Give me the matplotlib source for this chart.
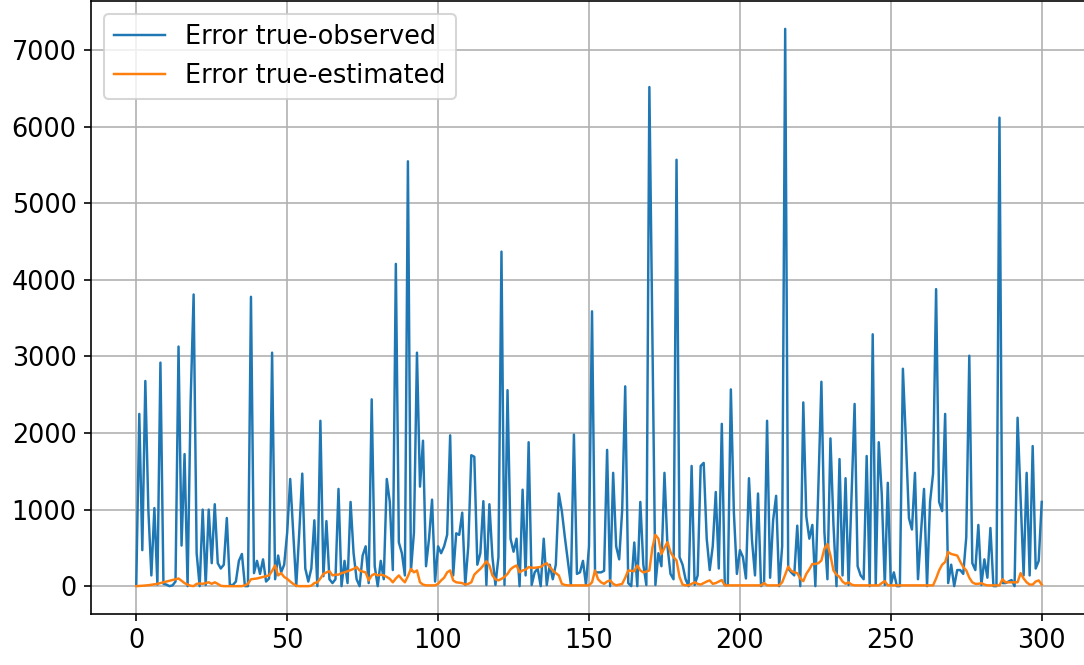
import numpy as np
import matplotlib
matplotlib.use('Agg')
import matplotlib.pyplot as plt

# values, index 0..300
err_observed = [
    30, 2250, 470, 2680, 1000, 140, 1020, 20, 2920, 30,
    20, 0, 10, 60, 3130, 530, 1725, 0, 2400, 3810,
    430, 0, 1000, 15, 1000, 300, 1070, 300, 230, 280,
    890, 15, 15, 60, 330, 420, 0, 0, 3780, 170,
    330, 160, 350, 60, 100, 3050, 90, 400, 180, 280,
    700, 1400, 700, 0, 700, 1470, 230, 60, 230, 860,
    0, 2160, 130, 850, 90, 40, 90, 1270, 0, 330,
    40, 1100, 430, 90, 0, 400, 520, 40, 2440, 260,
    0, 330, 90, 1400, 1100, 210, 4210, 570, 430, 140,
    5550, 200, 700, 3050, 1300, 1900, 260, 620, 1130, 60,
    520, 430, 520, 670, 1970, 140, 690, 670, 960, 15,
    520, 1710, 1690, 280, 430, 1110, 15, 1070, 380, 15,
    380, 4370, 15, 2560, 620, 450, 620, 0, 1260, 140,
    1880, 15, 180, 230, 0, 620, 15, 280, 90, 280,
    1210, 980, 640, 330, 15, 1980, 160, 180, 330, 15,
    520, 3590, 180, 180, 180, 200, 1780, 0, 1480, 520,
    350, 1000, 2610, 40, 0, 570, 0, 1100, 280, 15,
    6520, 3300, 15, 430, 260, 1480, 520, 160, 90, 5570,
    380, 280, 90, 0, 1570, 15, 140, 1570, 1610, 620,
    210, 520, 1230, 230, 2120, 15, 15, 2570, 960, 160,
    470, 380, 100, 1410, 600, 140, 1210, 0, 50, 2160,
    110, 860, 1180, 0, 520, 7280, 230, 180, 140, 790,
    0, 2400, 910, 620, 800, 0, 1300, 2670, 700, 90,
    1930, 800, 0, 1660, 140, 1410, 15, 1200, 2380, 260,
    140, 90, 1700, 0, 3290, 15, 1880, 1200, 15, 1350,
    15, 180, 0, 0, 2840, 1900, 890, 740, 1480, 90,
    700, 1270, 0, 1100, 1470, 3880, 1100, 980, 2250, 40,
    280, 0, 210, 210, 160, 640, 3010, 300, 210, 800,
    15, 350, 110, 760, 0, 0, 6120, 40, 40, 60,
    80, 0, 2200, 1150, 140, 1480, 140, 1830, 230, 330,
    1100,
]

err_estimated = [
    0, 2, 5, 8, 12, 18, 25, 30, 40, 50,
    60, 70, 80, 90, 100, 70, 40, 20, 5, 0,
    30, 35, 30, 40, 50, 30, 50, 30, 5, 0,
    0, 0, 0, 0, 0, 0, 10, 30, 90, 95,
    100, 110, 120, 130, 140, 200, 270, 140, 170, 120,
    95, 60, 30, 5, 0, 0, 0, 0, 5, 40,
    50, 100, 160, 180, 195, 140, 150, 150, 170, 180,
    195, 210, 225, 250, 205, 190, 180, 75, 140, 160,
    140, 150, 140, 120, 95, 50, 100, 140, 90, 50,
    130, 225, 180, 205, 50, 20, 10, 10, 10, 10,
    30, 75, 110, 180, 205, 75, 50, 45, 40, 20,
    30, 50, 150, 190, 225, 270, 325, 270, 140, 90,
    75, 95, 120, 160, 220, 250, 270, 180, 205, 215,
    250, 240, 240, 245, 250, 280, 300, 250, 205, 170,
    140, 30, 15, 10, 10, 10, 10, 10, 10, 10,
    10, 50, 205, 90, 50, 30, 60, 75, 30, 10,
    20, 30, 110, 205, 200, 195, 270, 205, 180, 190,
    205, 500, 670, 620, 420, 500, 575, 445, 380, 335,
    120, 20, 10, 10, 30, 50, 30, 20, 40, 60,
    75, 30, 40, 60, 80, 10, 10, 10, 10, 10,
    10, 10, 10, 10, 10, 10, 10, 10, 40, 10,
    10, 10, 10, 10, 50, 150, 255, 200, 180, 170,
    100, 65, 160, 220, 290, 290, 300, 335, 490, 550,
    400, 205, 150, 120, 60, 30, 50, 20, 10, 10,
    10, 10, 10, 10, 10, 10, 10, 40, 65, 10,
    10, 10, 10, 10, 10, 10, 10, 10, 10, 10,
    10, 10, 10, 10, 10, 100, 205, 280, 315, 445,
    420, 410, 400, 320, 250, 205, 110, 50, 30, 30,
    40, 20, 10, 10, 10, 10, 10, 90, 50, 50,
    50, 50, 50, 170, 100, 50, 20, 20, 60, 75,
    20,
]


def main():
    plt.rcParams['font.size'] = 12.5
    t = np.arange(len(err_observed))
    fig = plt.figure(figsize=(1084 / 147, 665 / 147), dpi=147)
    # axes box runs a few pixels past the right edge, as in the reference
    ax = fig.add_axes([91 / 1084, 51 / 665, 996 / 1084, 613 / 665])
    ax.plot(t, err_observed, lw=1.2, label='Error true-observed')
    ax.plot(t, err_estimated, lw=1.2, label='Error true-estimated')
    ax.grid(True)
    ax.legend(loc='upper left')
    fig.savefig('out.png', dpi=147)


if __name__ == '__main__':
    main()
